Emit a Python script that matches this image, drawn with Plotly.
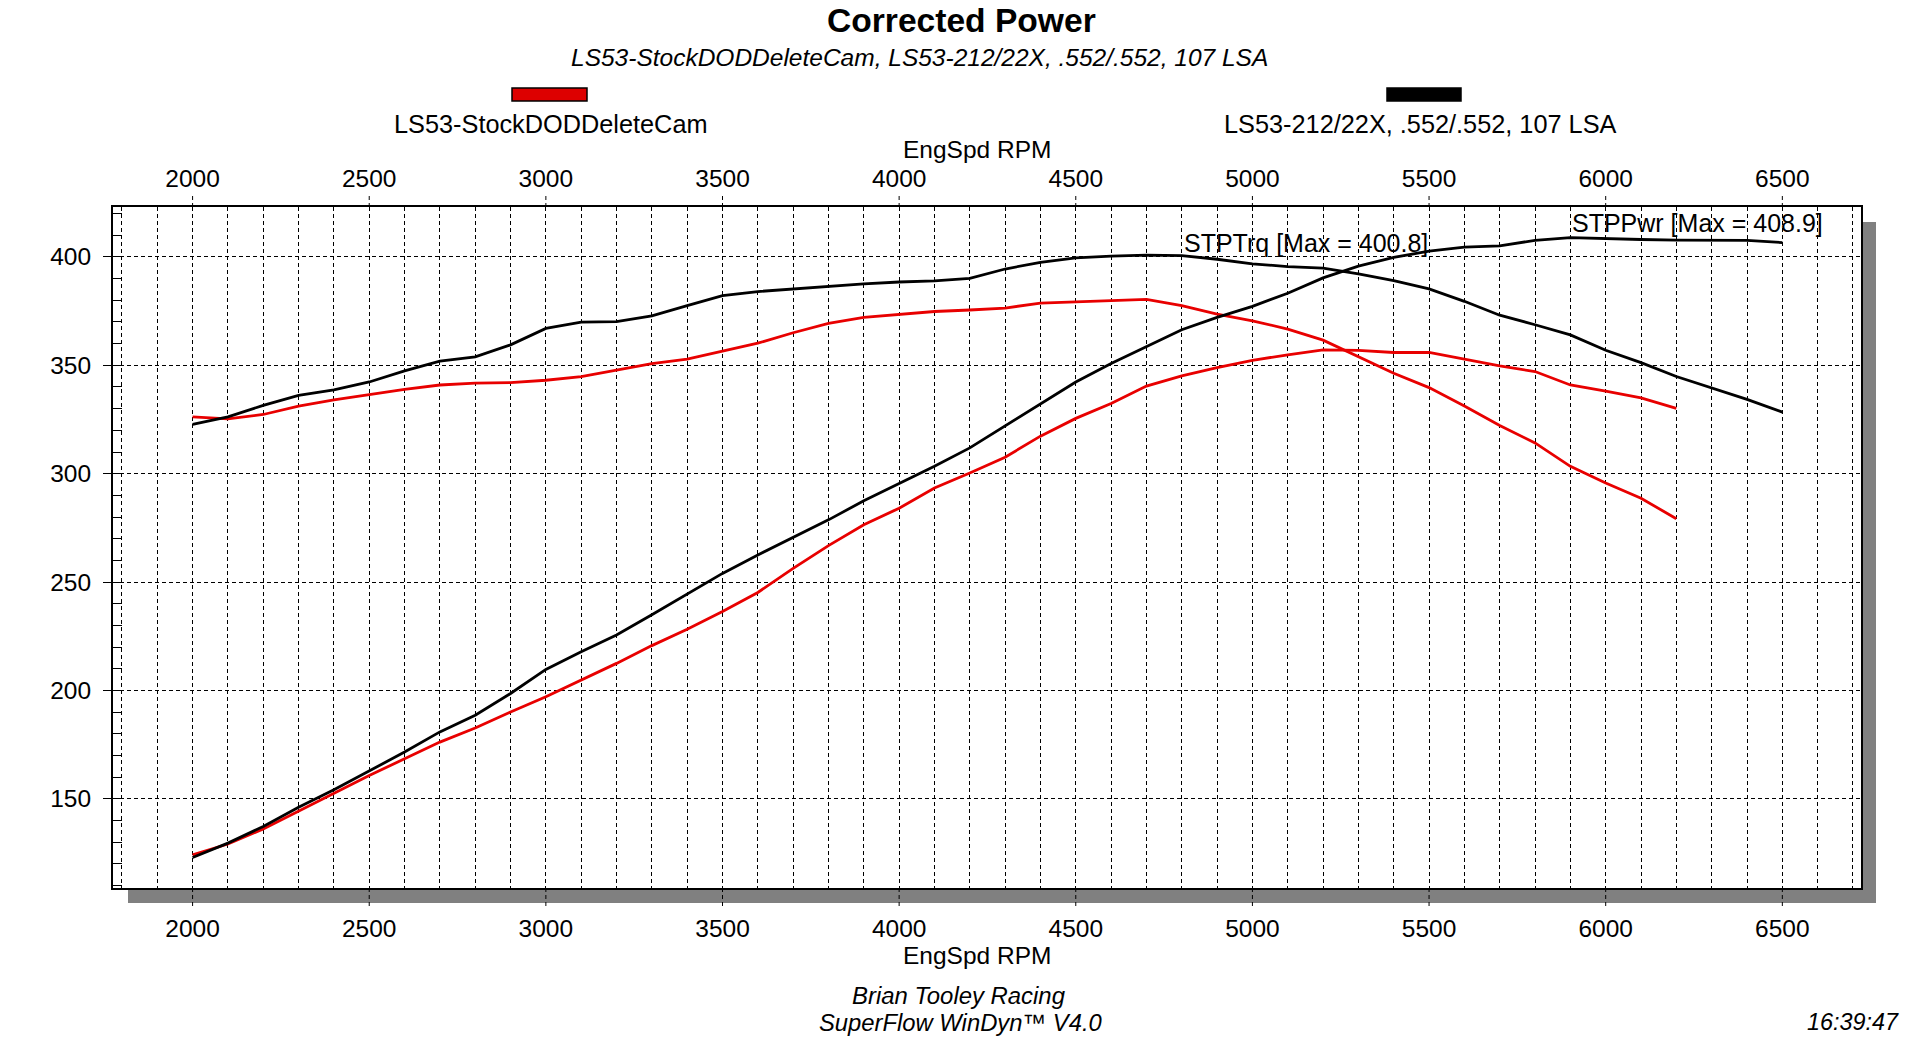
import plotly.graph_objects as go

# ---------------- data ----------------
rpm_stock = [2000, 2100, 2200, 2300, 2400, 2500, 2600, 2700, 2800, 2900,
             3000, 3100, 3200, 3300, 3400, 3500, 3600, 3700, 3800, 3900,
             4000, 4100, 4200, 4300, 4400, 4500, 4600, 4700, 4800, 4900,
             5000, 5100, 5200, 5300, 5400, 5500, 5600, 5700, 5800, 5900,
             6000, 6100, 6200]
trq_stock = [326.2, 325.3, 327.3, 331.2, 334.0, 336.6, 338.9, 340.9, 341.8, 342.0,
             343.1, 344.8, 347.8, 350.8, 352.8, 356.6, 360.2, 365.0, 369.3, 372.1,
             373.3, 374.8, 375.5, 376.4, 378.7, 379.3, 379.8, 380.4, 377.5, 373.6,
             370.5, 366.7, 361.6, 354.0, 346.3, 339.7, 331.2, 322.2, 314.2, 303.4,
             295.7, 288.7, 279.2]
pwr_stock = [124.2, 129.2, 136.1, 144.3, 152.6, 160.8, 168.5, 176.2, 182.7, 190.1,
             197.1, 204.8, 212.5, 220.7, 228.2, 236.4, 245.2, 256.3, 266.8, 276.4,
             284.1, 293.4, 300.3, 307.6, 317.3, 325.5, 332.4, 340.4, 345.1, 348.9,
             352.3, 354.8, 357.1, 356.9, 355.9, 355.9, 352.8, 349.7, 347.1, 340.9,
             338.1, 335.0, 330.1]

rpm_cam = [2000, 2100, 2200, 2300, 2400, 2500, 2600, 2700, 2800, 2900,
           3000, 3100, 3200, 3300, 3400, 3500, 3600, 3700, 3800, 3900,
           4000, 4100, 4200, 4300, 4400, 4500, 4600, 4700, 4800, 4900,
           5000, 5100, 5200, 5300, 5400, 5500, 5600, 5700, 5800, 5900,
           6000, 6100, 6200, 6300, 6400, 6500]
trq_cam = [322.7, 326.2, 331.5, 336.1, 338.6, 342.3, 347.4, 351.9, 353.9, 359.4,
           367.0, 369.9, 370.1, 372.8, 377.5, 382.1, 384.0, 385.2, 386.3, 387.5,
           388.4, 388.9, 390.1, 394.4, 397.5, 399.5, 400.3, 400.8, 400.6, 398.9,
           396.8, 395.5, 394.8, 392.1, 389.0, 385.2, 379.5, 373.1, 368.7, 364.0,
           356.9, 351.2, 344.8, 339.4, 334.3, 328.4]
pwr_cam = [123.0, 129.6, 137.3, 146.1, 154.2, 162.8, 171.6, 180.9, 188.6, 198.6,
           209.7, 217.9, 225.6, 234.9, 244.5, 254.0, 262.5, 270.5, 278.7, 287.5,
           295.4, 303.4, 311.9, 321.9, 332.3, 342.3, 350.8, 358.6, 366.4, 372.1,
           377.2, 383.2, 390.3, 395.7, 399.8, 402.6, 404.5, 405.1, 407.6, 408.9,
           408.3, 408.0, 407.7, 407.7, 407.6, 406.6]

x_ticks = [2000, 2500, 3000, 3500, 4000, 4500, 5000, 5500, 6000, 6500]
y_ticks = [150, 200, 250, 300, 350, 400]
x_range = [1774.7, 6722.7]
y_range = [108.9, 423.0]

series_names = ["LS53-StockDODDeleteCam", "LS53-212/22X, .552/.552, 107 LSA"]
title_text = "Corrected Power"
subtitle_text = "LS53-StockDODDeleteCam, LS53-212/22X, .552/.552, 107 LSA"
axis_title = "EngSpd RPM"
trq_label = "STPTrq [Max = 400.8]"
pwr_label = "STPPwr [Max = 408.9]"
footer1 = "Brian Tooley Racing"
footer2 = "SuperFlow WinDyn\u2122 V4.0"
time_text = "16:39:47"

# ---------------- style / layout ----------------
RED = "rgb(232,0,0)"
BLACK = "black"
FONT = "Liberation Sans, Arial, sans-serif"
FS = 24.5
W, H = 1920, 1037
L, R, T, B = 113, 59, 207, 149
PW, PH = W - L - R, H - T - B


def px(xp):
    return (xp - L) / PW


def py(yp):
    return (H - B - yp) / PH


fig = go.Figure()
for xs, ys, col in [(rpm_stock, trq_stock, RED), (rpm_stock, pwr_stock, RED),
                    (rpm_cam, trq_cam, BLACK), (rpm_cam, pwr_cam, BLACK)]:
    fig.add_trace(go.Scatter(x=xs, y=ys, mode="lines",
                             line=dict(color=col, width=2.8),
                             showlegend=False, hoverinfo="skip"))
# invisible trace to anchor the top axis
fig.add_trace(go.Scatter(x=rpm_cam, y=trq_cam, xaxis="x2", mode="lines",
                         line=dict(width=0), opacity=0,
                         showlegend=False, hoverinfo="skip"))

DASH = "4px,3px"
shapes = [
    # shadow
    dict(type="rect", xref="paper", yref="paper", layer="below",
         x0=px(128), x1=px(1876), y0=py(903), y1=py(222),
         fillcolor="rgb(128,128,128)", line=dict(width=0)),
    # white plot area
    dict(type="rect", xref="paper", yref="paper", layer="below",
         x0=0, x1=1, y0=0, y1=1, fillcolor="white", line=dict(width=0)),
    # legend swatches
    dict(type="rect", xref="paper", yref="paper",
         x0=px(512), x1=px(587), y0=py(101), y1=py(88),
         fillcolor="rgb(221,0,0)", line=dict(color="black", width=1.5)),
    dict(type="rect", xref="paper", yref="paper",
         x0=px(1387), x1=px(1461), y0=py(101), y1=py(88),
         fillcolor="black", line=dict(color="black", width=1.5)),
]
for t in x_ticks:
    shapes.append(dict(type="line", xref="x", yref="paper", layer="above",
                       x0=t, x1=t, y0=1, y1=1 + 14 / PH,
                       line=dict(color="black", width=1, dash=DASH)))
    shapes.append(dict(type="line", xref="x", yref="paper", layer="above",
                       x0=t, x1=t, y0=0, y1=-20 / PH,
                       line=dict(color="black", width=1, dash=DASH)))


def ann(text, xp, yp, size=FS, xanchor="center"):
    return dict(text=text, x=px(xp), y=py(yp), xref="paper", yref="paper",
                xanchor=xanchor, yanchor="middle", showarrow=False,
                font=dict(family=FONT, size=size, color="black"))


annotations = [
    ann("<b>" + title_text + "</b>", 961, 20, size=33.6),
    ann("<i>" + subtitle_text + "</i>", 919, 57),
    ann(series_names[0], 551, 124, size=25.3),
    ann(series_names[1], 1420, 124, size=25.3),
    ann(axis_title, 977, 149),
    ann(axis_title, 977, 956),
    ann(trq_label, 1182, 243, size=25, xanchor="left"),
    ann(pwr_label, 1570, 223, size=25, xanchor="left"),
    ann("<i>" + footer1 + "</i>", 959, 995, size=23.9),
    ann("<i>" + footer2 + "</i>", 961, 1022, size=23.8),
    ann("<i>" + time_text + "</i>", 1901, 1022, size=23.4, xanchor="right"),
]

tickfont = dict(family=FONT, size=FS, color="black")
fig.update_layout(
    width=W, height=H,
    margin=dict(l=L, r=R, t=T, b=B, pad=0),
    paper_bgcolor="white", plot_bgcolor="rgba(0,0,0,0)",
    showlegend=False,
    shapes=shapes, annotations=annotations,
    xaxis=dict(range=x_range, tickvals=x_ticks, ticks="outside", ticklen=16,
               tickcolor="rgba(0,0,0,0)", tickfont=tickfont, ticklabelstandoff=2,
               showline=True, linecolor="black", linewidth=2, mirror=True,
               showgrid=True, gridcolor="black", gridwidth=1, griddash=DASH,
               minor=dict(dtick=100, tick0=2000, showgrid=True, gridcolor="black",
                          gridwidth=1, griddash=DASH, ticks=""),
               zeroline=False),
    xaxis2=dict(range=x_range, overlaying="x", side="top", anchor="y",
                tickvals=x_ticks, ticks="outside", ticklen=8,
                tickcolor="rgba(0,0,0,0)", tickfont=tickfont, ticklabelstandoff=1,
                showline=False, showgrid=False, zeroline=False),
    yaxis=dict(range=y_range, tickvals=y_ticks, ticks="outside", ticklen=8,
               tickcolor="black", tickwidth=1, tickfont=tickfont,
               ticklabelstandoff=7,
               showline=True, linecolor="black", linewidth=2, mirror=True,
               showgrid=True, gridcolor="black", gridwidth=1, griddash=DASH,
               minor=dict(dtick=10, tick0=150, ticks="inside", ticklen=9,
                          tickcolor="black", tickwidth=1, showgrid=False),
               zeroline=False),
)

fig.write_html("out.html",
               config={"displayModeBar": False},
               post_script="document.body.style.margin='0px';"
                           "document.body.style.overflow='hidden';")
